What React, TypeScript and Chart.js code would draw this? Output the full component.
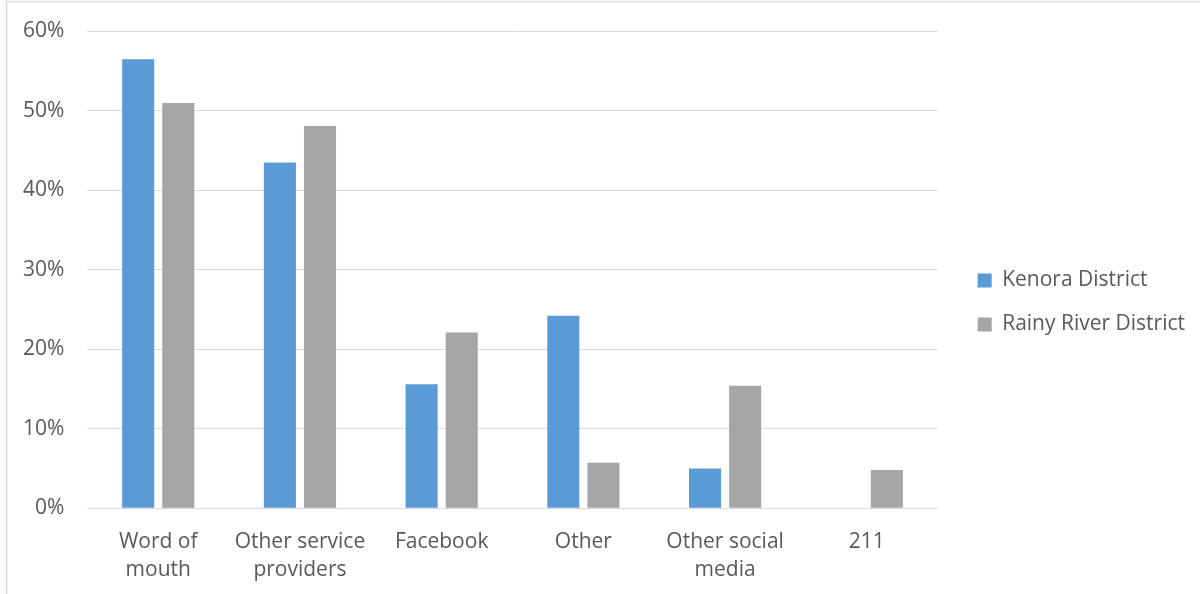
import React, { useEffect, useRef } from "react";
import { Chart, registerables } from "chart.js";

Chart.register(...registerables);

const categories: (string | string[])[] = [
  ["Word of", "mouth"],
  ["Other service", "providers"],
  "Facebook",
  "Other",
  ["Other social", "media"],
  "211",
];
const kenora = [56.5, 43.5, 15.6, 24.2, 5.0, 0];
const rainyRiver = [51.0, 48.1, 22.1, 5.7, 15.4, 4.8];
const seriesNames = ["Kenora District", "Rainy River District"];

const FONT = "'Open Sans', sans-serif";
const TEXT = "#595959";
const SIZE = 21;
const LEGEND_GAP = 17;
const LEGEND_SHIFT_Y = -4;

const borderPlugin = {
  id: "frame",
  beforeDraw(chart: any) {
    const ctx = chart.ctx;
    ctx.save();
    ctx.fillStyle = "#ffffff";
    ctx.fillRect(0, 0, chart.width, chart.height);
    ctx.strokeStyle = "#d9d9d9";
    ctx.lineWidth = 1.5;
    ctx.strokeRect(6.5, 1.5, chart.width + 50, chart.height + 50);
    ctx.restore();
  },
};

const legendGapPlugin = {
  id: "legendGap",
  beforeLayout(chart: any) {
    const lg = chart.legend;
    if (lg && !lg.__gapPatched) {
      const orig = lg.fit.bind(lg);
      lg.fit = function () {
        orig();
        this.width += LEGEND_GAP;
      };
      lg.__gapPatched = true;
    }
  },
  afterLayout(chart: any) {
    const lg = chart.legend;
    if (lg) {
      lg.left += LEGEND_GAP;
      lg.top += LEGEND_SHIFT_Y;
      lg.bottom += LEGEND_SHIFT_Y;
      if (typeof lg.adjustHitBoxes === "function") lg.adjustHitBoxes();
    }
  },
};

export default function App() {
  const ref = useRef<HTMLCanvasElement>(null);
  useEffect(() => {
    const chart = new Chart(ref.current!, {
      type: "bar",
      data: {
        labels: categories,
        datasets: [
          {
            label: seriesNames[0],
            data: kenora,
            backgroundColor: "#5B9BD5",
            barPercentage: 0.8,
            categoryPercentage: 0.566,
          },
          {
            label: seriesNames[1],
            data: rainyRiver,
            backgroundColor: "#A5A5A5",
            barPercentage: 0.8,
            categoryPercentage: 0.566,
          },
        ],
      },
      options: {
        responsive: false,
        animation: false,
        layout: { padding: { left: 0, top: 9, right: 5, bottom: -10 } },
        plugins: {
          legend: {
            position: "right",
            labels: {
              boxWidth: 14,
              boxHeight: 14,
              padding: 23,
              color: TEXT,
              font: { family: FONT, size: SIZE },
            },
          },
          tooltip: { enabled: false },
        },
        scales: {
          x: {
            grid: { display: false, drawTicks: false },
            border: { color: "#d9d9d9", width: 1 },
            ticks: {
              color: TEXT,
              font: { family: FONT, size: SIZE, lineHeight: 1.33 },
              padding: 20,
              maxRotation: 0,
              autoSkip: false,
            },
          },
          y: {
            min: 0,
            max: 60,
            grid: { color: "#d9d9d9", lineWidth: 1, drawTicks: false },
            border: { display: false },
            ticks: {
              stepSize: 10,
              color: TEXT,
              font: { family: FONT, size: SIZE, lineHeight: 0.8 },
              padding: 23,
              callback: (v: any) => v + "%",
            },
          },
        },
      },
      plugins: [borderPlugin, legendGapPlugin],
    });
    return () => chart.destroy();
  }, []);
  return (
    <div style={{ position: "fixed", left: 0, top: 0, width: 1200, height: 594 }}>
      <canvas ref={ref} width={1200} height={594} />
    </div>
  );
}
